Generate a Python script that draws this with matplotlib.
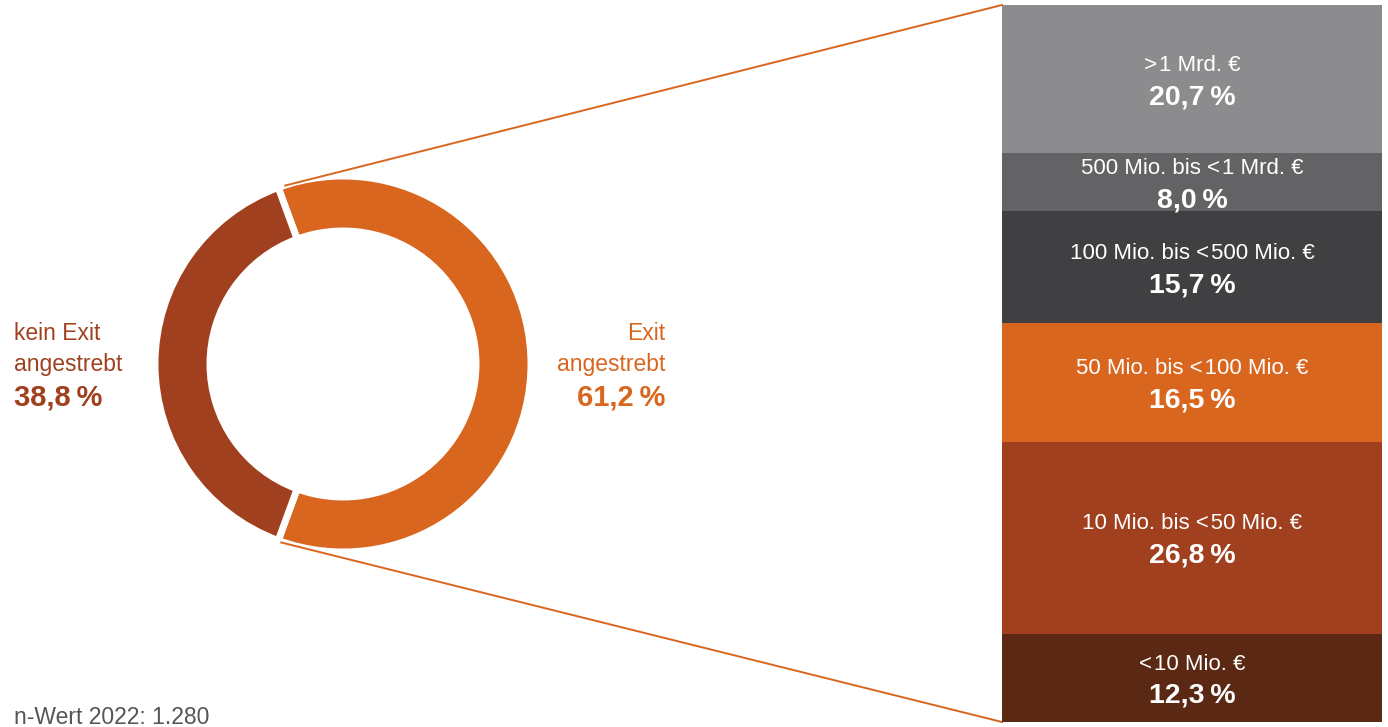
import matplotlib
matplotlib.use("Agg")
import matplotlib.pyplot as plt
import numpy as np

plt.rcParams['font.family'] = ['Liberation Sans', 'DejaVu Sans']

# ---- data ----
donut_labels = ["Exit", "kein Exit"]
donut_values = [61.2, 38.8]
donut_colors = ["#D9661F", "#A0401F"]

bar_categories = ["<\u200a10 Mio. €", "10 Mio. bis <\u200a50 Mio. €", "50 Mio. bis <\u200a100 Mio. €",
                  "100 Mio. bis <\u200a500 Mio. €", "500 Mio. bis <\u200a1 Mrd. €", ">\u200a1 Mrd. €"]
bar_values = [12.3, 26.8, 16.5, 15.7, 8.0, 20.7]
bar_colors = ["#5B2814", "#A0401F", "#D9661F", "#404042", "#636365", "#8C8C8E"]
note = "n-Wert 2022: 1.280"

def fmt(v):
    return f"{v:.1f}".replace(".", ",") + "\u2009%"

W, H = 1388, 727
fig = plt.figure(figsize=(W / 100, H / 100), dpi=100)
ax = fig.add_axes([0, 0, 1, 1])

cx, cy, R, w = 343, 727 - 364, 188, 55
start = -donut_values[0] * 3.6 / 2
wedges, _ = ax.pie(donut_values, colors=donut_colors, startangle=start, counterclock=True,
                   center=(cx, cy), radius=R, frame=True,
                   wedgeprops=dict(width=w, edgecolor="white", linewidth=5))
ax.set_xlim(0, W)
ax.set_ylim(0, H)
ax.set_aspect('equal')
ax.axis('off')

# connector lines
bx0, bx1, by0, by1 = 1002, 1382, 5, 722
a1 = np.deg2rad(-start)
a2 = np.deg2rad(start)
ax.plot([cx + R * np.cos(a1) + 7, bx0], [cy + R * np.sin(a1) + 2, H - by0], color="#D9661F", lw=1.4, zorder=3)
ax.plot([cx + R * np.cos(a2) + 3, bx0], [cy + R * np.sin(a2) - 2, H - by1], color="#D9661F", lw=1.4, zorder=3)

# donut labels
lab_fs, val_fs = 16.5, 21
ax.text(14, H - 334, "kein Exit", ha="left", va="center", fontsize=lab_fs, color="#A0401F")
ax.text(14, H - 365, "angestrebt", ha="left", va="center", fontsize=lab_fs, color="#A0401F")
ax.text(14, H - 397, fmt(donut_values[1]), ha="left", va="center", fontsize=val_fs,
        color="#A0401F", fontweight="bold")
ax.text(665, H - 334, "Exit", ha="right", va="center", fontsize=lab_fs, color="#D9661F")
ax.text(665, H - 365, "angestrebt", ha="right", va="center", fontsize=lab_fs, color="#D9661F")
ax.text(665, H - 397, fmt(donut_values[0]), ha="right", va="center", fontsize=val_fs,
        color="#D9661F", fontweight="bold")

ax.text(14, H - 717, note, ha="left", va="center", fontsize=16.5, color="#555555")

# stacked bar
bax = fig.add_axes([bx0 / W, (H - by1) / H, (bx1 - bx0) / W, (by1 - by0) / H])
bottom = 0
for cat, v, c in zip(bar_categories, bar_values, bar_colors):
    bax.bar(0, v, bottom=bottom, width=1, color=c, edgecolor="none")
    mid = bottom + v / 2
    bax.annotate(cat, (0, mid), xytext=(0, 10), textcoords="offset points",
                 ha="center", va="center", fontsize=16, color="white")
    bax.annotate(fmt(v), (0, mid), xytext=(0, -13), textcoords="offset points",
                 ha="center", va="center", fontsize=20.5, color="white", fontweight="bold")
    bottom += v
bax.set_xlim(-0.5, 0.5)
bax.set_ylim(0, sum(bar_values))
bax.axis('off')

fig.savefig("out.png", dpi=100)
